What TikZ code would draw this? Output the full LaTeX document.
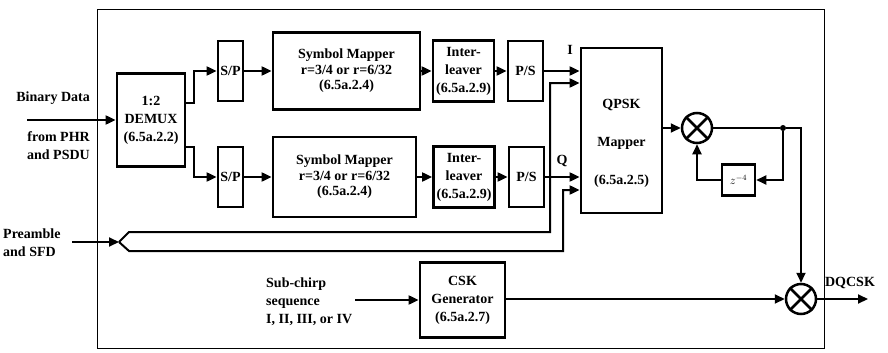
\documentclass[tikz,border=0pt]{standalone}
\usepackage{fontspec}
\setmainfont{Liberation Serif}
\usetikzlibrary{arrows.meta,calc}
\begin{document}
\begin{tikzpicture}[x=1pt,y=-1pt,
  font=\bfseries\fontsize{14}{18}\selectfont,
  blk/.style={draw,line width=2.8pt,align=center,inner sep=0pt},
  conn/.style={line width=2pt,-{Triangle[length=10pt,width=9pt]}},
  plain/.style={line width=2pt},
  mult/.style={draw,circle,line width=2.5pt,minimum size=30pt,inner sep=0pt},
  lbl/.style={inner sep=0pt},
  tight/.style={font=\bfseries\fontsize{14}{15.5}\selectfont}
]
\useasboundingbox (0,0) rectangle (888,353);
\draw[line width=1pt] (97,10) rectangle (824,348);

% blocks
\node[blk,minimum width=68pt,minimum height=93pt] (demux) at (151,120) {1:2\\DEMUX\\(6.5a.2.2)};
\node[blk,minimum width=25pt,minimum height=60pt] (sp1) at (230.5,71) {S/P};
\node[blk,minimum width=25pt,minimum height=60pt] (sp2) at (230.5,177) {S/P};
\node[blk,tight,minimum width=147pt,minimum height=77pt] (sm1) at (346.5,71) {Symbol Mapper\\r=3/4 or r=6/32\\(6.5a.2.4)};
\node[blk,tight,minimum width=143pt,minimum height=80pt] (sm2) at (344.5,177) {Symbol Mapper\\r=3/4 or r=6/32\\(6.5a.2.4)};
\node[blk,minimum width=61pt,minimum height=61pt] (il1) at (463.5,71) {Inter-\\leaver\\(6.5a.2.9)};
\node[blk,minimum width=61pt,minimum height=61pt] (il2) at (464,177) {Inter-\\leaver\\(6.5a.2.9)};
\node[blk,minimum width=35pt,minimum height=60pt] (ps1) at (525.5,71) {P/S};
\node[blk,minimum width=35pt,minimum height=60pt] (ps2) at (526.5,177) {P/S};
\node[blk,minimum width=81pt,minimum height=165pt] (qpsk) at (621.5,130.5) {};
\node[lbl,align=center] (qpsktxt) at (621.5,143) {QPSK\\[20pt]Mapper\\[20pt](6.5a.2.5)};
\node[mult] (m1) at (697,128) {};
\node[blk,line width=2.5pt,minimum width=33pt,minimum height=31pt,font=\fontsize{12}{12}\selectfont] (z) at (738.5,180) {$z^{-4}$};
\node[circle,fill,inner sep=0pt,minimum size=6pt] (dot) at (783,128) {};
\node[mult] (m2) at (801,299) {};
\node[blk,minimum width=85pt,minimum height=75pt] (csk) at (462.5,300) {CSK\\Generator\\(6.5a.2.7)};

\foreach \m in {m1,m2}
  \draw[line width=2.5pt] (\m.north west) -- (\m.south east) (\m.north east) -- (\m.south west);

% texts
\node[lbl,anchor=east] (bintxt) at (90,98) {Binary Data};
\node[lbl,anchor=east,align=right] (phrtxt) at (90,146) {from PHR\\and PSDU};
\node[lbl,anchor=west,align=left] (pretxt) at (3,243) {Preamble\\and SFD};
\node[lbl,anchor=west,align=left] (subtxt) at (266,302) {Sub-chirp\\sequence\\I, II, III, or IV};
\node[lbl] (itxt) at (570,50) {I};
\node[lbl] (qtxt) at (562,161) {Q};
\node[lbl] (outtxt) at (850,283) {DQCSK};

% coordinates for free ends
\coordinate (bin) at (27,120);
\coordinate (pre) at (72,242);
\coordinate (split) at (119,242);
\coordinate (subin) at (355,300);
\coordinate (out) at (868,299);

% connectors
\draw[conn] (bin) -- (demux.west);
\draw[conn] ([yshift=17pt]demux.east) -- ++(8,0) |- (sp1.west);
\draw[conn] ([yshift=-27pt]demux.east) -- ++(8,0) |- (sp2.west);
\draw[conn] (sp1.east) -- (sm1.west);
\draw[conn] (sp2.east) -- (sp2.east -| sm2.west);
\draw[conn] (sm1.east) -- (il1.west);
\draw[conn] (sm2.east) -- (il2.west);
\draw[conn] (il1.east) -- (ps1.west);
\draw[conn] (il2.east) -- (ps2.west);
\draw[conn] (ps1.east) -- (ps1.east -| qpsk.west);
\draw[conn] (ps2.east) -- (ps2.east -| qpsk.west);

\draw[conn] (pre) -- (split);
\draw[conn] (split) -- ++(10,-10) -- (550,232) |- ([yshift=47.5pt]qpsk.west);
\draw[conn] (split) -- ++(10,9) -- (563,251) |- ([yshift=-59.5pt]qpsk.west);

\draw[conn] (qpsk.east |- m1) -- (m1.west);
\draw[plain] (m1.east) -- (dot);
\draw[conn] (dot) -| (m2.north);
\draw[conn] (dot) |- (z.east);
\draw[conn] (z.west) -| (m1.south);

\draw[conn] (subin) -- (csk.west);
\draw[conn] (csk.east |- m2) -- (m2.west);
\draw[conn] (m2.east) -- (out);
\end{tikzpicture}
\end{document}
